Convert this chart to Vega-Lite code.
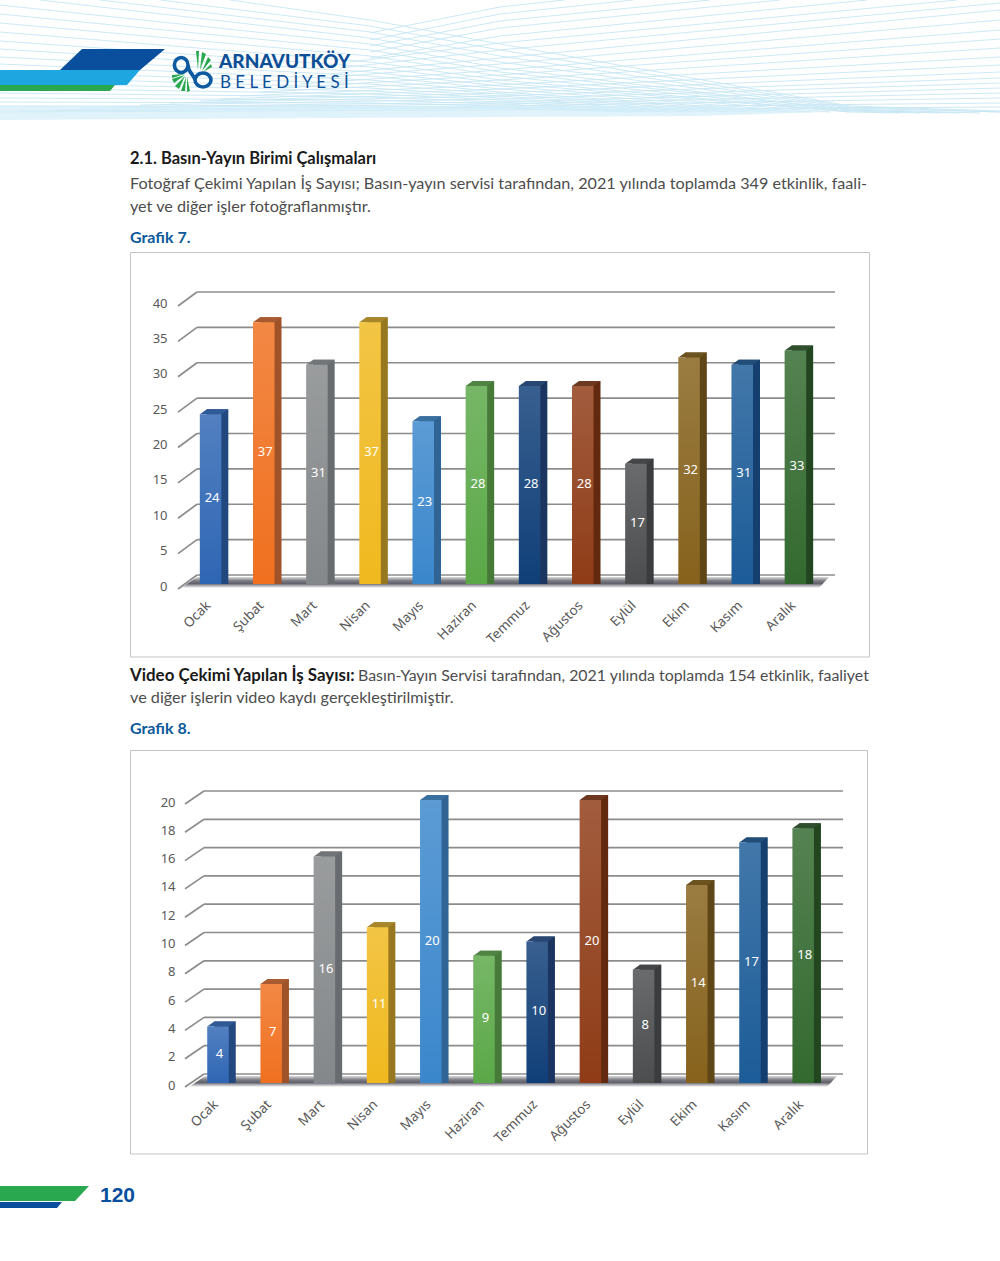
{"$schema":"https://vega.github.io/schema/vega-lite/v6.json","padding":0,"spacing":0,"background":"white","config":{"view":{"stroke":null},"axis":{"labelFont":"Noto Sans","labelFontSize":13,"labelColor":"#595959","domain":false,"ticks":false,"grid":false,"title":null,"labelBound":false,"labelFlush":false}},
"datasets":{
"g7":[{"ay":"Ocak","adet":24},{"ay":"Şubat","adet":37},{"ay":"Mart","adet":31},{"ay":"Nisan","adet":37},{"ay":"Mayıs","adet":23},{"ay":"Haziran","adet":28},{"ay":"Temmuz","adet":28},{"ay":"Ağustos","adet":28},{"ay":"Eylül","adet":17},{"ay":"Ekim","adet":32},{"ay":"Kasım","adet":31},{"ay":"Aralık","adet":33}],
"g8":[{"ay":"Ocak","adet":4},{"ay":"Şubat","adet":7},{"ay":"Mart","adet":16},{"ay":"Nisan","adet":11},{"ay":"Mayıs","adet":20},{"ay":"Haziran","adet":9},{"ay":"Temmuz","adet":10},{"ay":"Ağustos","adet":20},{"ay":"Eylül","adet":8},{"ay":"Ekim","adet":14},{"ay":"Kasım","adet":17},{"ay":"Aralık","adet":18}],
"t7":[{"t":0},{"t":5},{"t":10},{"t":15},{"t":20},{"t":25},{"t":30},{"t":35},{"t":40}],
"t8":[{"t":0},{"t":2},{"t":4},{"t":6},{"t":8},{"t":10},{"t":12},{"t":14},{"t":16},{"t":18},{"t":20}],
"one":[{"k":"sayfa"}]
},
"vconcat":[
{"width":1000,"height":250,"layer":[
{"data":{"name":"one"},"mark":{"type":"point","clip":true,"filled":false,"opacity":1,"size":4,"stroke":"#c6e7f4","strokeWidth":0.9,"shape":"M370,33L500,7L564,0M370,40L500,14L633,0M370,46L500,21L710,0M370,52L500,28L780,0M370,58L500,36L867,0M350,62L500,43L957,0M340,68L500,50L1000,3M330,74L500,58L1000,10M320,78L500,64L1000,20M300,84L500,70L1000,30M280,88L500,75L1000,39M260,92L500,80L1000,48M240,96L500,85L1000,57M220,99L500,89L1000,65M200,101L500,93L1000,72M170,103L500,96L1000,78M140,105L500,99L1000,83M110,107L500,102L1000,88M80,108L500,104L1000,93M50,110L500,106L1000,98M20,111L500,108L1000,103M0,112L500,110L1000,107M230,0L370,20L500,44L850,106L1000,111M160,0L370,26L500,50L850,107L1000,112M100,0L370,32L500,56L850,108L1000,112M40,0L370,38L500,62L850,109L980,113M0,5L370,44L500,68L850,110L960,113M0,14L370,50L500,72L850,110L940,113M0,23L370,56L500,76L850,111L920,113M0,32L370,62L500,80L850,112L900,113M0,41L370,67L500,83L850,112M0,49L370,72L500,86L830,112M0,57L370,76L500,89L810,112M0,64L370,80L500,92L790,112M0,71L370,84L500,94L770,112M0,77L370,88L500,96L750,112M0,83L370,91L500,98L730,112M0,88L370,94L500,100L710,112M0,93L370,97L500,102L690,112M0,98L370,100L500,104L670,112M0,102L370,103L500,106L650,112M0,106L370,106L500,108L630,112"},"encoding":{"x":{"value":0},"y":{"value":0}}},
{"data":{"name":"one"},"mark":{"type":"point","clip":true,"filled":true,"opacity":0.7,"size":4,"fill":"#d3eef9","shape":"M0,106L700,106L830,112L700,116L0,120Z"},"encoding":{"x":{"value":0},"y":{"value":0}}},
{"data":{"name":"one"},"mark":{"type":"point","clip":true,"filled":true,"opacity":1,"size":4,"fill":"#0a4f9e","shape":"M60,70L82,49L165,49L140,70Z"},"encoding":{"x":{"value":0},"y":{"value":0}}},
{"data":{"name":"one"},"mark":{"type":"point","clip":true,"filled":true,"opacity":1,"size":4,"fill":"#1ea6e0","shape":"M0,70L140,70L127,85L0,85Z"},"encoding":{"x":{"value":0},"y":{"value":0}}},
{"data":{"name":"one"},"mark":{"type":"point","clip":true,"filled":true,"opacity":1,"size":4,"fill":"#2aa84f","shape":"M0,85L115,85L110,91L0,91Z"},"encoding":{"x":{"value":0},"y":{"value":0}}},
{"data":{"name":"one"},"mark":{"type":"point","clip":true,"filled":true,"opacity":1,"size":4,"fill":"#2aa84f","shape":"M198,70L196,51L199,51ZM200,70L202,52L206,54ZM202,71L208,57L211,60ZM203,72L211,64L212,67ZM187,77L187,92L190,91ZM186,77L181,91L185,91ZM185,76L175,86L179,89ZM185,75L172,79L174,83ZM185,74L172,75L172,78Z"},"encoding":{"x":{"value":0},"y":{"value":0}}},
{"data":{"name":"one"},"mark":{"type":"point","clip":true,"filled":false,"opacity":1,"size":4,"stroke":"#0d5aa0","strokeWidth":3.6,"shape":"M188,65A6.8,7.5 0 1 1 174.4,65A6.8,7.5 0 1 1 188,65C188,73 194,74 195,80M195,80A8,7 0 1 0 211,80A8,7 0 1 0 195,80"},"encoding":{"x":{"value":0},"y":{"value":0}}},
{"data":{"values":[{"s":"ARNAVUTKÖY"}]},"mark":{"type":"text","align":"left","baseline":"middle","font":"Lato","fontWeight":900,"fontSize":19,"color":"#0d4f96"},"encoding":{"x":{"value":219},"y":{"value":62},"text":{"field":"s"}}},
{"data":{"values":[{"s":"B E L E D İ Y E S İ"}]},"mark":{"type":"text","align":"left","baseline":"middle","font":"Lato","fontWeight":400,"fontSize":17,"color":"#0d4f96"},"encoding":{"x":{"value":220},"y":{"value":83},"text":{"field":"s"}}},
{"data":{"values":[{"s":"2.1. Basın-Yayın Birimi Çalışmaları"}]},"mark":{"type":"text","align":"left","baseline":"middle","font":"Lato","fontWeight":700,"fontSize":16.5,"color":"#1a1a1a"},"encoding":{"x":{"value":130},"y":{"value":159},"text":{"field":"s"}}},
{"data":{"values":[{"s":"Fotoğraf Çekimi Yapılan İş Sayısı; Basın-yayın servisi tarafından, 2021 yılında toplamda 349 etkinlik, faali-"}]},"mark":{"type":"text","align":"left","baseline":"middle","font":"Lato","fontSize":16.2,"color":"#4d4d4d"},"encoding":{"x":{"value":130},"y":{"value":184},"text":{"field":"s"}}},
{"data":{"values":[{"s":"yet ve diğer işler fotoğraflanmıştır."}]},"mark":{"type":"text","align":"left","baseline":"middle","font":"Lato","fontSize":16.2,"color":"#4d4d4d"},"encoding":{"x":{"value":130},"y":{"value":207},"text":{"field":"s"}}},
{"data":{"values":[{"s":"Grafik 7."}]},"mark":{"type":"text","align":"left","baseline":"middle","font":"Lato","fontWeight":700,"fontSize":16,"color":"#0b5a9c"},"encoding":{"x":{"value":130},"y":{"value":238},"text":{"field":"s"}}}
]},
{"width":1000,"height":410,"resolve":{"scale":{"color":"independent","y":"independent"}},"layer":[
{"resolve":{"scale":{"color":"independent"}},"layer":[
{"data":{"name":"one"},"mark":{"type":"rect","fill":"transparent","stroke":"#c4c4c4","strokeWidth":1},"encoding":{"x":{"value":130.5},"x2":{"value":869.5},"y":{"value":2.5},"y2":{"value":407}}},
{"data":{"name":"one"},"mark":{"type":"point","filled":true,"opacity":1,"size":4,"shape":"M181,338L197,327L829,327L819,338Z","fill":{"gradient":"linear","x1":0,"y1":0,"x2":0,"y2":1,"stops":[{"offset":0,"color":"#dcdcdc"},{"offset":0.35,"color":"#7a7a82"},{"offset":0.6,"color":"#62626c"},{"offset":1,"color":"#ffffff"}]}},"encoding":{"x":{"value":0},"y":{"value":0}}},
{"data":{"name":"t7"},"mark":{"type":"rule","color":"#8c8c8c","strokeWidth":1.7,"yOffset":-9},"encoding":{"y":{"field":"t","type":"quantitative","scale":{"domain":[0,40],"range":[334,51],"nice":false},"axis":{"values":[0,5,10,15,20,25,30,35,40],"orient":"left","offset":-167,"labelPadding":0,"labelOffset":2}},"x":{"value":197},"x2":{"value":835}}},
{"data":{"name":"t7"},"mark":{"type":"point","filled":false,"opacity":1,"size":4,"stroke":"#8c8c8c","strokeWidth":1.7,"shape":"M-9.5,5L9.5,-9"},"encoding":{"y":{"field":"t","type":"quantitative"},"x":{"value":187.5}}},
{"data":{"name":"g7"},"mark":{"type":"bar","width":21.5,"xOffset":7,"yOffset":-5,"y2Offset":-5},"encoding":{"x":{"field":"ay","type":"nominal","sort":null,"scale":{"type":"band","domain":["Ocak","Şubat","Mart","Nisan","Mayıs","Haziran","Temmuz","Ağustos","Eylül","Ekim","Kasım","Aralık"],"range":[184,822],"padding":0},"axis":{"labelAngle":-45,"labelAlign":"right","labelBaseline":"middle","offset":-68,"labelPadding":11,"labelOffset":-2,"labelFontSize":13.5}},"y":{"field":"adet","type":"quantitative","stack":null},"color":{"field":"ay","type":"nominal","legend":null,"scale":{"domain":["Ocak","Şubat","Mart","Nisan","Mayıs","Haziran","Temmuz","Ağustos","Eylül","Ekim","Kasım","Aralık"],"range":["#22497f","#a05328","#696c6e","#97771f","#2f6494","#457a38","#1c3560","#62290f","#3a3c3e","#5f4617","#143f6e","#224620"]}}}},
{"data":{"name":"g7"},"mark":{"type":"point","filled":true,"opacity":1,"size":4,"shape":"M10.75,0L17.75,-5L10.75,-5Z"},"encoding":{"x":{"field":"ay","type":"nominal","sort":null},"y":{"datum":0,"type":"quantitative"},"color":{"field":"ay","type":"nominal","legend":null,"scale":{"domain":["Ocak","Şubat","Mart","Nisan","Mayıs","Haziran","Temmuz","Ağustos","Eylül","Ekim","Kasım","Aralık"],"range":["#22497f","#a05328","#696c6e","#97771f","#2f6494","#457a38","#1c3560","#62290f","#3a3c3e","#5f4617","#143f6e","#224620"]}}}},
{"data":{"name":"g7"},"mark":{"type":"point","filled":true,"opacity":1,"size":4,"shape":"M-10.75,0L10.75,0L17.75,-5L-3.75,-5Z"},"encoding":{"x":{"field":"ay","type":"nominal","sort":null},"y":{"field":"adet","type":"quantitative"},"color":{"field":"ay","type":"nominal","legend":null,"scale":{"domain":["Ocak","Şubat","Mart","Nisan","Mayıs","Haziran","Temmuz","Ağustos","Eylül","Ekim","Kasım","Aralık"],"range":["#2f5a96","#a85a30","#727577","#a8862a","#3a709f","#4f8442","#2a4672","#6c3820","#444648","#6b5320","#214d78","#2f4f2f"]}}}},
{"data":{"name":"g7"},"mark":{"type":"bar","width":21.5},"encoding":{"x":{"field":"ay","type":"nominal","sort":null},"y":{"field":"adet","type":"quantitative","stack":null},"color":{"field":"ay","type":"nominal","legend":null,"scale":{"domain":["Ocak","Şubat","Mart","Nisan","Mayıs","Haziran","Temmuz","Ağustos","Eylül","Ekim","Kasım","Aralık"],"range":["#2f66b4","#f0701f","#85888a","#f0b91f","#3b87cc","#5ba848","#103f78","#8f3c17","#4b4d4f","#86621c","#1c5c98","#33692f"]}}}},
{"data":{"name":"g7"},"mark":{"type":"bar","width":21.5,"color":{"gradient":"linear","x1":0,"y1":0,"x2":0,"y2":1,"stops":[{"offset":0,"color":"rgba(255,255,255,0.17)"},{"offset":1,"color":"rgba(255,255,255,0)"}]}},"encoding":{"x":{"field":"ay","type":"nominal","sort":null},"y":{"field":"adet","type":"quantitative","stack":null}}}
]},
{"data":{"name":"g7"},"mark":{"type":"text","color":"white","font":"Noto Sans","fontSize":13,"baseline":"middle","dx":1.5,"dy":-1},"encoding":{"x":{"field":"ay","type":"nominal","sort":null},"y":{"field":"adet","type":"quantitative","axis":null,"scale":{"domain":[0,80],"range":[334,51],"nice":false}},"text":{"field":"adet","type":"quantitative"}}}
]},
{"width":1000,"height":90,"layer":[
{"data":{"values":[{"s":"Video Çekimi Yapılan İş Sayısı:"}]},"mark":{"type":"text","align":"left","baseline":"middle","font":"Lato","fontWeight":700,"fontSize":16.9,"color":"#1a1a1a"},"encoding":{"x":{"value":130},"y":{"value":16},"text":{"field":"s"}}},
{"data":{"values":[{"s":"Basın-Yayın Servisi tarafından, 2021 yılında toplamda 154 etkinlik, faaliyet"}]},"mark":{"type":"text","align":"left","baseline":"middle","font":"Lato","fontSize":15.9,"color":"#4d4d4d"},"encoding":{"x":{"value":358},"y":{"value":16},"text":{"field":"s"}}},
{"data":{"values":[{"s":"ve diğer işlerin video kaydı gerçekleştirilmiştir."}]},"mark":{"type":"text","align":"left","baseline":"middle","font":"Lato","fontSize":16.2,"color":"#4d4d4d"},"encoding":{"x":{"value":130},"y":{"value":38},"text":{"field":"s"}}},
{"data":{"values":[{"s":"Grafik 8."}]},"mark":{"type":"text","align":"left","baseline":"middle","font":"Lato","fontWeight":700,"fontSize":16,"color":"#0b5a9c"},"encoding":{"x":{"value":130},"y":{"value":69},"text":{"field":"s"}}}
]},
{"width":1000,"height":410,"resolve":{"scale":{"color":"independent","y":"independent"}},"layer":[
{"resolve":{"scale":{"color":"independent"}},"layer":[
{"data":{"name":"one"},"mark":{"type":"rect","fill":"transparent","stroke":"#c4c4c4","strokeWidth":1},"encoding":{"x":{"value":130.5},"x2":{"value":867.5},"y":{"value":0.5},"y2":{"value":404}}},
{"data":{"name":"one"},"mark":{"type":"point","filled":true,"opacity":1,"size":4,"shape":"M189,337L205,326L837,326L827,337Z","fill":{"gradient":"linear","x1":0,"y1":0,"x2":0,"y2":1,"stops":[{"offset":0,"color":"#dcdcdc"},{"offset":0.35,"color":"#7a7a82"},{"offset":0.6,"color":"#62626c"},{"offset":1,"color":"#ffffff"}]}},"encoding":{"x":{"value":0},"y":{"value":0}}},
{"data":{"name":"t8"},"mark":{"type":"rule","color":"#8c8c8c","strokeWidth":1.7,"yOffset":-9},"encoding":{"y":{"field":"t","type":"quantitative","scale":{"domain":[0,20],"range":[333,50],"nice":false},"axis":{"values":[0,2,4,6,8,10,12,14,16,18,20],"orient":"left","offset":-175,"labelPadding":0,"labelOffset":2}},"x":{"value":204},"x2":{"value":843}}},
{"data":{"name":"t8"},"mark":{"type":"point","filled":false,"opacity":1,"size":4,"stroke":"#8c8c8c","strokeWidth":1.7,"shape":"M-9.5,4L9.5,-9"},"encoding":{"y":{"field":"t","type":"quantitative"},"x":{"value":194.5}}},
{"data":{"name":"g8"},"mark":{"type":"bar","width":21.5,"xOffset":7,"yOffset":-5,"y2Offset":-5},"encoding":{"x":{"field":"ay","type":"nominal","sort":null,"scale":{"type":"band","domain":["Ocak","Şubat","Mart","Nisan","Mayıs","Haziran","Temmuz","Ağustos","Eylül","Ekim","Kasım","Aralık"],"range":[191.4,829.8],"padding":0},"axis":{"labelAngle":-45,"labelAlign":"right","labelBaseline":"middle","offset":-69,"labelPadding":11,"labelOffset":-2,"labelFontSize":13.5}},"y":{"field":"adet","type":"quantitative","stack":null},"color":{"field":"ay","type":"nominal","legend":null,"scale":{"domain":["Ocak","Şubat","Mart","Nisan","Mayıs","Haziran","Temmuz","Ağustos","Eylül","Ekim","Kasım","Aralık"],"range":["#22497f","#a05328","#696c6e","#97771f","#2f6494","#457a38","#1c3560","#62290f","#3a3c3e","#5f4617","#143f6e","#224620"]}}}},
{"data":{"name":"g8"},"mark":{"type":"point","filled":true,"opacity":1,"size":4,"shape":"M10.75,0L17.75,-5L10.75,-5Z"},"encoding":{"x":{"field":"ay","type":"nominal","sort":null},"y":{"datum":0,"type":"quantitative"},"color":{"field":"ay","type":"nominal","legend":null,"scale":{"domain":["Ocak","Şubat","Mart","Nisan","Mayıs","Haziran","Temmuz","Ağustos","Eylül","Ekim","Kasım","Aralık"],"range":["#22497f","#a05328","#696c6e","#97771f","#2f6494","#457a38","#1c3560","#62290f","#3a3c3e","#5f4617","#143f6e","#224620"]}}}},
{"data":{"name":"g8"},"mark":{"type":"point","filled":true,"opacity":1,"size":4,"shape":"M-10.75,0L10.75,0L17.75,-5L-3.75,-5Z"},"encoding":{"x":{"field":"ay","type":"nominal","sort":null},"y":{"field":"adet","type":"quantitative"},"color":{"field":"ay","type":"nominal","legend":null,"scale":{"domain":["Ocak","Şubat","Mart","Nisan","Mayıs","Haziran","Temmuz","Ağustos","Eylül","Ekim","Kasım","Aralık"],"range":["#2f5a96","#a85a30","#727577","#a8862a","#3a709f","#4f8442","#2a4672","#6c3820","#444648","#6b5320","#214d78","#2f4f2f"]}}}},
{"data":{"name":"g8"},"mark":{"type":"bar","width":21.5},"encoding":{"x":{"field":"ay","type":"nominal","sort":null},"y":{"field":"adet","type":"quantitative","stack":null},"color":{"field":"ay","type":"nominal","legend":null,"scale":{"domain":["Ocak","Şubat","Mart","Nisan","Mayıs","Haziran","Temmuz","Ağustos","Eylül","Ekim","Kasım","Aralık"],"range":["#2f66b4","#f0701f","#85888a","#f0b91f","#3b87cc","#5ba848","#103f78","#8f3c17","#4b4d4f","#86621c","#1c5c98","#33692f"]}}}},
{"data":{"name":"g8"},"mark":{"type":"bar","width":21.5,"color":{"gradient":"linear","x1":0,"y1":0,"x2":0,"y2":1,"stops":[{"offset":0,"color":"rgba(255,255,255,0.17)"},{"offset":1,"color":"rgba(255,255,255,0)"}]}},"encoding":{"x":{"field":"ay","type":"nominal","sort":null},"y":{"field":"adet","type":"quantitative","stack":null}}}
]},
{"data":{"name":"g8"},"mark":{"type":"text","color":"white","font":"Noto Sans","fontSize":13,"baseline":"middle","dx":1.5,"dy":-1},"encoding":{"x":{"field":"ay","type":"nominal","sort":null},"y":{"field":"adet","type":"quantitative","axis":null,"scale":{"domain":[0,40],"range":[333,50],"nice":false}},"text":{"field":"adet","type":"quantitative"}}}
]},
{"width":1000,"height":101,"layer":[
{"data":{"name":"one"},"mark":{"type":"point","filled":true,"opacity":1,"size":4,"fill":"#2aa84f","shape":"M0,26L89,26L75,41L0,41Z"},"encoding":{"x":{"value":0},"y":{"value":0}}},
{"data":{"name":"one"},"mark":{"type":"point","filled":true,"opacity":1,"size":4,"fill":"#0a4f9e","shape":"M0,42L62,42L57,48L0,48Z"},"encoding":{"x":{"value":0},"y":{"value":0}}},
{"data":{"values":[{"s":"120"}]},"mark":{"type":"text","align":"left","baseline":"middle","font":"Liberation Sans","fontWeight":700,"fontSize":21,"color":"#0a4f9e"},"encoding":{"x":{"value":100},"y":{"value":36},"text":{"field":"s"}}}
]}
]}
